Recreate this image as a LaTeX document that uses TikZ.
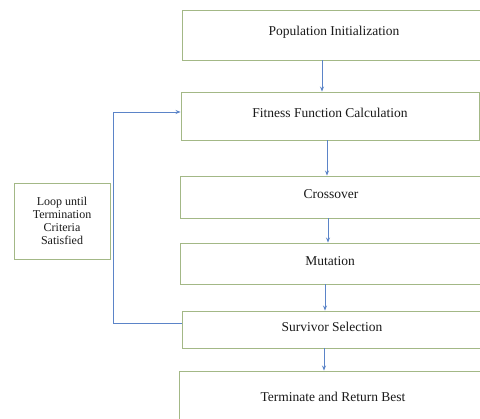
\documentclass[tikz,border=0pt]{standalone}
\usepackage{fontspec}
\setmainfont{Liberation Serif}
\usetikzlibrary{arrows.meta}
\definecolor{boxline}{HTML}{A3B886}
\definecolor{flowline}{HTML}{5B84C8}
\definecolor{ink}{HTML}{1A1A1A}
\tikzset{
  stage/.style={draw=boxline, line width=0.9pt, fill=white, inner sep=0pt},
  caption/.style={font=\fontsize{13.5}{15}\selectfont, text=ink},
  flow/.style={draw=flowline, line width=0.8pt, -{Stealth[length=5pt,width=4pt]}}
}
\begin{document}
\begin{tikzpicture}[x=1pt,y=-1pt]
  \path[use as bounding box] (0,0) rectangle (480,419);
  \clip (0,0) rectangle (480,419);
  \fill[white] (0,0) rectangle (480,419);

  % processing stages, stacked top to bottom
  \node[stage, minimum width=306, minimum height=50] (init) at (335,35) {};
  \node[caption] (initText) at (334,32) {Population Initialization};
  \node[stage, minimum width=298, minimum height=48] (fit) at (330,116) {};
  \node[caption] (fitText) at (330,113) {Fitness Function Calculation};
  \node[stage, minimum width=306, minimum height=42] (cross) at (333,197) {};
  \node[caption] (crossText) at (331,194) {Crossover};
  \node[stage, minimum width=306, minimum height=41] (mut) at (333,263.5) {};
  \node[caption] (mutText) at (330,261) {Mutation};
  \node[stage, minimum width=304, minimum height=37] (surv) at (334,329.5) {};
  \node[caption] (survText) at (332,327) {Survivor Selection};
  \node[stage, minimum width=312, minimum height=60] (term) at (335,401) {};
  \node[caption] (termText) at (333,397) {Terminate and Return Best};

  % side note for the loop
  \node[stage, minimum width=96, minimum height=76, align=center,
        font=\fontsize{12}{12.8}\selectfont, text=ink]
        (loop) at (62,221) {Loop until\\Termination\\Criteria\\Satisfied};

  % main flow
  \draw[flow] (init.south -| 322,0) -- (fit.north -| 322,0);
  \draw[flow] (fit.south -| 327,0) -- (cross.north -| 327,0);
  \draw[flow] (cross.south -| 328,0) -- (mut.north -| 328,0);
  \draw[flow] (mut.south -| 325,0) -- (surv.north -| 325,0);
  \draw[flow] (surv.south -| 324,0) -- (term.north -| 324,0);

  % feedback from survivor selection back to fitness evaluation
  \coordinate (turnLow) at (113,323);
  \coordinate (turnHigh) at (113,112);
  \draw[flow] (surv.west |- turnLow) -- (turnLow) -- (turnHigh) -- (fit.west |- turnHigh);
\end{tikzpicture}
\end{document}
